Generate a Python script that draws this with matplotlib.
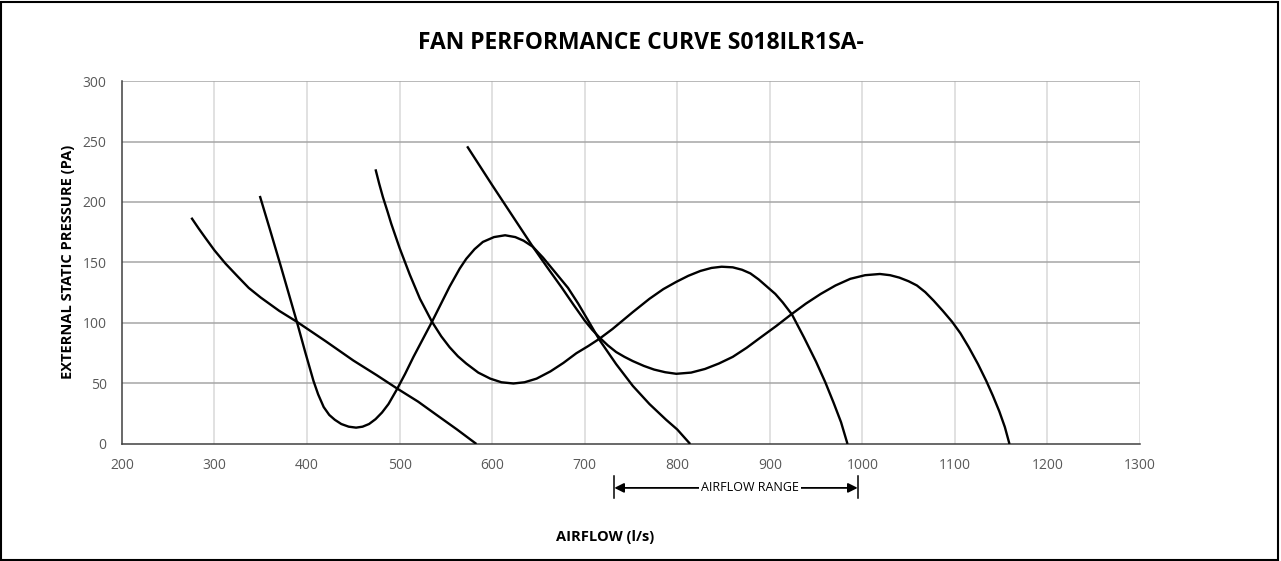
import matplotlib.pyplot as plt
from matplotlib.patches import Rectangle
from matplotlib.transforms import blended_transform_factory

plt.rcParams["font.family"] = ["Open Sans", "DejaVu Sans"]

TITLE = "FAN PERFORMANCE CURVE S018ILR1SA-"
X_LABEL = "AIRFLOW (l/s)"
Y_LABEL = "EXTERNAL STATIC PRESSURE (PA)"

# fan curves (airflow l/s, pressure Pa)
speed1_x = [275, 283, 290, 300, 312, 325, 337, 350, 370, 389, 420, 450, 475,
            497, 520, 540, 562, 583]
speed1_y = [187, 178, 170.5, 160, 149, 138.5, 129, 121, 110, 101, 85, 69, 57,
            46, 35, 24, 12, 0]

speed2_x = [349, 360, 372, 389, 398, 407, 412, 418, 424, 430, 437, 445, 453,
            460, 467, 474, 481, 488, 497, 506, 515, 535, 554, 565, 572, 581,
            590, 602, 614, 625, 634, 644, 655, 668, 682, 693, 703, 716, 734,
            752, 770, 788, 800, 814]
speed2_y = [205, 177, 146, 101, 76, 52, 41, 30.5, 24, 20, 16.5, 14.3, 13.5,
            14.3, 16.5, 20.5, 26, 33, 45, 58, 72, 101, 130, 145, 153, 161,
            167, 171, 172.5, 171, 168, 163, 154, 142, 129, 116, 103, 86, 66,
            48, 33, 20, 12, 0]

speed3_x = [474, 478, 482, 487, 491, 500, 511, 522, 535, 545, 554, 563, 572,
            585, 598, 610, 623, 635, 648, 663, 677, 691, 704, 716, 730, 741,
            752, 770, 785, 799, 812, 825, 837, 848, 860, 870, 879, 888, 897,
            906, 914, 924, 937, 950, 960, 969, 977, 984]
speed3_y = [227, 215, 204, 192, 182, 162, 140, 120, 101, 89, 80, 72.5, 66.5,
            59, 54, 51, 50, 51, 54, 60, 67, 75, 81, 87, 95, 102,
            109, 120, 128, 134, 139, 143, 145.5, 146.5, 146, 144, 141, 136, 130,
            124, 117, 107, 88, 68, 51, 34, 18, 0]

speed4_x = [573, 600, 625, 644, 660, 675, 688, 700, 708, 716, 725, 734, 743,
            752, 764, 775, 787, 799, 815, 830, 845, 860, 875, 890, 907, 923,
            939, 955, 971, 987, 1003, 1019, 1030, 1040, 1050, 1059, 1068, 1077,
            1087, 1097, 1106, 1115, 1125, 1134, 1141, 1148, 1154, 1159]
speed4_y = [246, 214, 185, 163, 145.5, 129.5, 115, 102, 94.5, 88, 81.5, 76, 72,
            68.5, 64.5, 61.5, 59.3, 58, 59, 62, 66.5, 72, 79.5, 88, 97.5, 107,
            116, 124, 131, 136.5, 139.5, 140.5, 139.5, 137.5, 134.5, 131, 125.5,
            118.5, 110, 101, 91.5, 80, 66, 52, 40, 27, 14, 0]

curves = [(speed1_x, speed1_y), (speed2_x, speed2_y),
          (speed3_x, speed3_y), (speed4_x, speed4_y)]

x_ticks = list(range(200, 1301, 100))
y_ticks = list(range(0, 301, 50))
AIRFLOW_RANGE = (732, 995)
RANGE_TEXT = "AIRFLOW RANGE"

fig = plt.figure(figsize=(12.81, 5.61), dpi=100)
ax = fig.add_axes([0.0952, 0.2086, 0.7947, 0.647])

for xs, ys in curves:
    ax.plot(xs, ys, color="black", lw=1.7, solid_joinstyle="round",
            solid_capstyle="butt", zorder=3)

ax.set_xlim(200, 1300)
ax.set_ylim(0, 300)
ax.set_xticks(x_ticks)
ax.set_yticks(y_ticks)
ax.tick_params(length=0, labelsize=10, labelcolor="#595959")
ax.tick_params(axis="y", pad=11)
ax.tick_params(axis="x", pad=10)

for y in y_ticks[1:]:
    ax.axhline(y, color="#a6a6a6", lw=1.1, zorder=1)
for x in x_ticks[1:]:
    ax.axvline(x, color="#d9d9d9", lw=1.1, zorder=0)

for side in ["top", "right"]:
    ax.spines[side].set_visible(False)
ax.spines["left"].set_color("#404040")
ax.spines["bottom"].set_color("#404040")
ax.spines["left"].set_linewidth(1.1)
ax.spines["bottom"].set_linewidth(1.1)

fig.text(0.5, 0.923, TITLE, ha="center", va="center", fontsize=16.5,
         fontweight="bold")
fig.text(0.053, 0.533, Y_LABEL, ha="center", va="center", rotation=90,
         fontsize=10.5, fontweight="bold")
fig.text(605 / 1281, 1 - 537 / 561, X_LABEL, ha="center", va="center",
         fontsize=10.5, fontweight="bold")

# airflow range marker under the x axis
trans = blended_transform_factory(ax.transData, ax.transAxes)
lo, hi = AIRFLOW_RANGE
y_arrow = -0.121
for xv in AIRFLOW_RANGE:
    ax.plot([xv, xv], [-0.088, -0.150], color="black", lw=1.1,
            transform=trans, clip_on=False)
ax.annotate("", xy=(lo, y_arrow), xytext=(hi, y_arrow), xycoords=trans,
            textcoords=trans,
            arrowprops=dict(arrowstyle="<|-|>", color="black", lw=1.3,
                            shrinkA=0, shrinkB=0, mutation_scale=14))
ax.text((lo + hi) / 2 + 15, y_arrow, RANGE_TEXT, transform=trans,
        ha="center", va="center", fontsize=9,
        bbox=dict(facecolor="white", edgecolor="none", pad=1.5))

fig.patches.append(Rectangle((0.001, 0.002), 0.997, 0.995,
                             transform=fig.transFigure, fill=False,
                             edgecolor="black", lw=1.5))

fig.savefig("out.png", dpi=100)
